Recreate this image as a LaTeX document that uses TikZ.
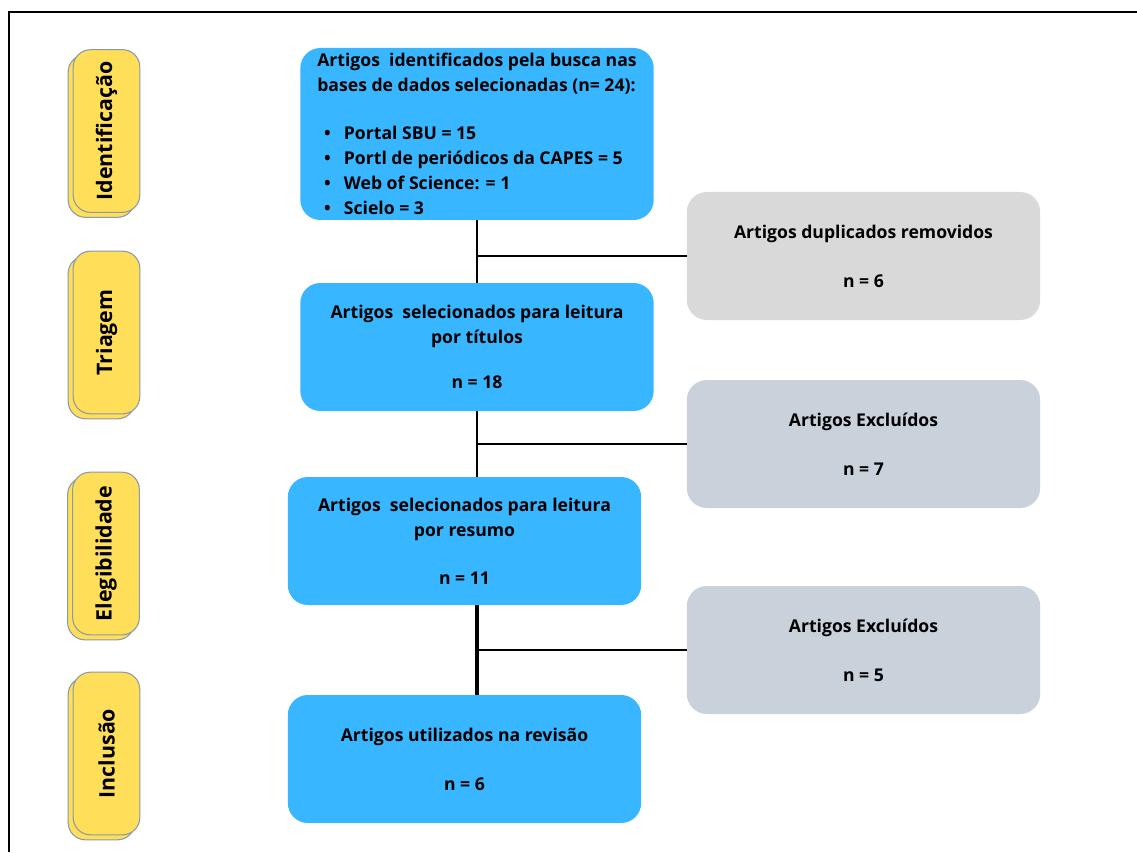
\documentclass[tikz,border=0pt]{standalone}
\usepackage{fontspec}
\setmainfont{Open Sans}
\definecolor{boxblue}{HTML}{38B6FF}
\definecolor{boxgray}{HTML}{D9D9D9}
\definecolor{boxslate}{HTML}{C9D1DB}
\definecolor{tabyellow}{HTML}{FFDE59}
\definecolor{tabedge}{HTML}{8A9AAA}
\begin{document}
\begin{tikzpicture}[x=0.75pt,y=-0.75pt,
		every node/.style={font=\fontsize{13.2}{18.75}\selectfont\bfseries},
		stagebox/.style={fill=boxblue,rounded corners=15pt,minimum width=265pt,minimum height=96pt,align=center,inner sep=0pt},
		outbox/.style={stagebox,fill=boxgray},
		tabbox/.style={draw=tabedge,fill=tabyellow,rounded corners=13pt,rotate=90,minimum width=122pt,minimum height=50pt,inner sep=0pt,line width=0.8pt,font=\fontsize{16}{18}\selectfont\bfseries},
		link/.style={line width=2.2pt}]
		\useasboundingbox (0,0) rectangle (1137,852);

		% Frame
		\draw[line width=1.5pt] (9,852) -- (9,12) -- (1137,12);

		% Phase tabs
		\node[tabbox] (idb) at (101.5,136) {};
		\node[tabbox] (id) at (106.5,131) {Identificação};
		\node[tabbox] (trb) at (101.5,337.5) {};
		\node[tabbox] (tr) at (106.5,332.5) {Triagem};
		\node[tabbox] (elb) at (101,558.5) {};
		\node[tabbox] (el) at (106,553.5) {Elegibilidade};
		\node[tabbox] (inb) at (101.5,758.5) {};
		\node[tabbox] (in) at (106.5,753.5) {Inclusão};

		% Main steps
		\node[stagebox,minimum height=129pt,align=left] (busca) at (477,134)
			{Artigos\ \ identificados pela busca nas\\
			 bases de dados selecionadas (n= 24):\\[17pt]
			 \hspace{5pt}\textbullet\hspace{10pt}Portal SBU = 15\\
			 \hspace{5pt}\textbullet\hspace{10pt}Portl de periódicos da CAPES = 5\\
			 \hspace{5pt}\textbullet\hspace{10pt}Web of Science: = 1\\
			 \hspace{5pt}\textbullet\hspace{10pt}Scielo = 3};
		\node[stagebox] (titulo) at (477,347)
			{Artigos\ \ selecionados para leitura\\ por títulos\\[15pt] n = 18};
		\node[stagebox] (resumo) at (464.5,541)
			{Artigos\ \ selecionados para leitura\\ por resumo\\[17pt] n = 11};
		\node[stagebox] (revisao) at (464.5,759)
			{Artigos utilizados na revisão\\[18pt] n = 6};

		% Removed articles
		\node[outbox] (dup) at (863.5,256) {Artigos duplicados removidos\\[18pt] n = 6};
		\node[outbox,fill=boxslate] (exc1) at (863.5,444) {Artigos Excluídos\\[18pt] n = 7};
		\node[outbox,fill=boxslate] (exc2) at (863.5,650) {Artigos Excluídos\\[18pt] n = 5};

		% Connectors
		\draw[link] (busca.south) -- (titulo.north);
		\draw[link] (busca.south |- dup.west) -- (dup.west);
		\draw[link] (titulo.south) -- (titulo.south |- resumo.north);
		\draw[link] (titulo.south |- exc1.west) -- (exc1.west);
		\draw[link,line width=3pt] (resumo.south -| titulo.south) -- (revisao.north -| titulo.south);
		\draw[link] (titulo.south |- exc2.west) -- (exc2.west);
	\end{tikzpicture}
\end{document}
